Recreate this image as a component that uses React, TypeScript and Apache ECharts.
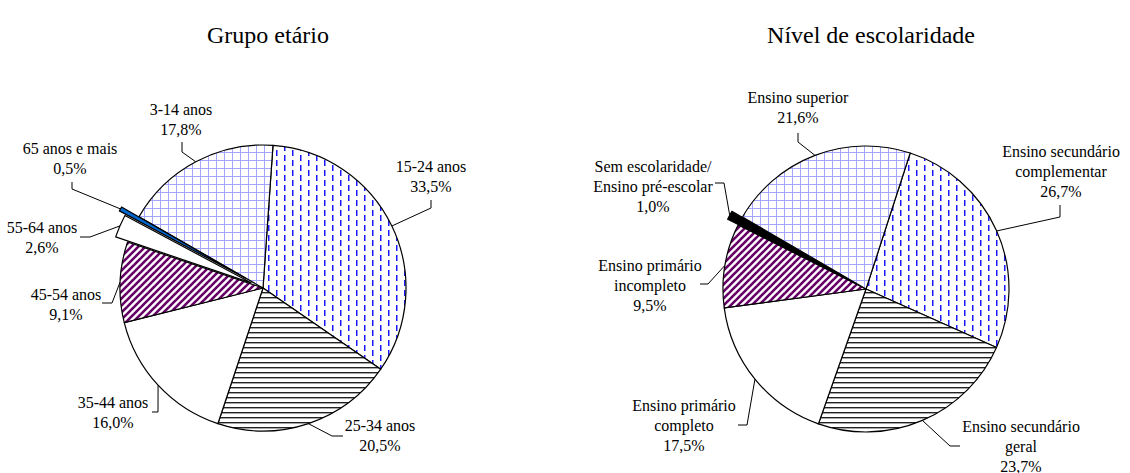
import React, { useEffect, useRef } from "react";
import * as echarts from "echarts";

const ageCategories = ["15-24 anos", "25-34 anos", "35-44 anos", "45-54 anos", "55-64 anos", "65 anos e mais", "3-14 anos"];
const ageValues = [33.5, 20.5, 16.0, 9.1, 2.6, 0.5, 17.8];
// explosion distance of each slice (px, layout only)
const ageExplode = [0, 0, 0, 0, 13, 20, 0];

const eduCategories = [
  "Ensino secundário\ncomplementar",
  "Ensino secundário\ngeral",
  "Ensino primário\ncompleto",
  "Ensino primário\nincompleto",
  "Sem escolaridade/\nEnsino pré-escolar",
  "Ensino superior",
];
const eduValues = [26.7, 23.7, 17.5, 9.5, 1.0, 21.6];
const eduExplode = [0, 0, 0, 0, 12, 0];

const titles = ["Grupo etário", "Nível de escolaridade"];

// label block centres and leader elbows (layout only)
const ageLabelPos = [[431, 176], [380, 435], [113, 412], [66, 304], [42, 237], [70, 158], [181, 119]];
const ageElbows = [
  [[431, 208], [431, 200]],
  [[332, 436], [343, 436]],
  [[158, 412], [152, 412]],
  [[112, 303], [102, 303]],
  [[90, 237], [80, 237]],
  [[72, 189], [72, 182]],
  [[182, 152], [182, 142]],
];
const eduLabelPos = [[1061, 171], [1021, 446], [684, 425], [650, 285], [653, 186], [798, 107]];
const eduElbows = [
  [[1060, 217], [1060, 205]],
  [[950, 446], [960, 446]],
  [[747, 425], [738, 425]],
  [[708, 284], [700, 284]],
  [[724, 183], [715, 183]],
  [[798, 142], [798, 133]],
];

function makeCanvas(w: number, h: number, draw: (c: CanvasRenderingContext2D) => void) {
  const cv = document.createElement("canvas");
  cv.width = w;
  cv.height = h;
  const ctx = cv.getContext("2d")!;
  ctx.fillStyle = "#ffffff";
  ctx.fillRect(0, 0, w, h);
  draw(ctx);
  return cv;
}

export default function App() {
  const ref = useRef<HTMLDivElement>(null);
  useEffect(() => {
    if (!ref.current) return;
    const chart = echarts.init(ref.current, null, { renderer: "svg" });

    const dashPattern = makeCanvas(16, 20, (c) => {
      c.fillStyle = "#1a1aff";
      c.fillRect(4, 0, 1.5, 6);
      c.fillRect(4, 10, 1.5, 6);
      c.fillRect(12, 5, 1.5, 6);
      c.fillRect(12, 15, 1.5, 5);
      c.fillRect(12, 0, 1.5, 1);
    });
    const hPattern = makeCanvas(4, 5, (c) => {
      c.fillStyle = "#222222";
      c.fillRect(0, 2, 4, 1.4);
    });
    const gridPattern = makeCanvas(8, 8, (c) => {
      c.fillStyle = "#a5a5ff";
      c.fillRect(0, 0, 8, 1);
      c.fillRect(0, 0, 1, 8);
    });
    const diagPattern = makeCanvas(7, 7, (c) => {
      c.strokeStyle = "#660066";
      c.lineWidth = 2.6;
      const seg = (x1: number, y1: number, x2: number, y2: number) => {
        c.beginPath();
        c.moveTo(x1, y1);
        c.lineTo(x2, y2);
        c.stroke();
      };
      seg(-1, 8, 8, -1);
      seg(-4.5, 4.5, 4.5, -4.5);
      seg(2.5, 11.5, 11.5, 2.5);
    });
    const pat = (cv: HTMLCanvasElement) => ({ image: cv, repeat: "repeat" } as any);

    const ageFills = [pat(dashPattern), pat(hPattern), "#ffffff", pat(diagPattern), "#ffffff", "#0066cc", pat(gridPattern)];
    const eduFills = [pat(dashPattern), pat(hPattern), "#ffffff", pat(diagPattern), "#000000", pat(gridPattern)];

    const fmt = (v: number) => v.toFixed(1).replace(".", ",") + "%";
    const hidden = { color: "rgba(0,0,0,0)", borderWidth: 0 };
    const serif = "Liberation Serif";

    // visible pie series: items whose explosion equals `off` are selected; items in `hide` are invisible
    const visSeries = (
      center: number[],
      startAngle: number,
      cats: string[],
      vals: number[],
      fills: any[],
      expl: number[],
      off: number,
      show: (i: number) => boolean
    ) => ({
      type: "pie",
      center,
      radius: 143,
      startAngle,
      clockwise: true,
      selectedMode: "multiple",
      selectedOffset: off,
      silent: true,
      label: { show: false },
      labelLine: { show: false },
      emphasis: { disabled: true },
      itemStyle: { borderColor: "#000", borderWidth: 1.2 },
      data: cats.map((n, i) => ({
        name: n,
        value: vals[i],
        selected: off > 0 && expl[i] === off,
        itemStyle: show(i) ? { color: fills[i], borderColor: "#000", borderWidth: 1.2 } : hidden,
      })),
    });

    const labelSeries = (
      center: number[],
      startAngle: number,
      cats: string[],
      vals: number[],
      expl: number[],
      pos: number[][],
      elbows: number[][][]
    ) => ({
      type: "pie",
      center,
      radius: 143,
      startAngle,
      clockwise: true,
      silent: true,
      selectedMode: false,
      avoidLabelOverlap: false,
      emphasis: { disabled: true },
      itemStyle: hidden,
      label: {
        show: true,
        position: "outside",
        formatter: (p: any) => p.name + "\n" + fmt(p.value),
        align: "center",
        fontFamily: serif,
        fontSize: 16,
        lineHeight: 20,
        color: "#000",
      },
      labelLine: { show: true, length: 10, length2: 10, smooth: false, lineStyle: { color: "#000", width: 1 } },
      labelLayout: (p: any) => {
        const i = p.dataIndex;
        let edge: number[] | null = null;
        try {
          const lay = (chart as any).getModel().getSeriesByIndex(p.seriesIndex).getData().getItemLayout(i);
          const mid = (lay.startAngle + lay.endAngle) / 2;
          const rr = lay.r + expl[i];
          edge = [lay.cx + rr * Math.cos(mid), lay.cy + rr * Math.sin(mid)];
        } catch (e) {
          edge = null;
        }
        const out: any = {
          x: pos[i][0],
          y: pos[i][1],
          align: "center",
          verticalAlign: "middle",
        };
        if (edge) out.labelLinePoints = [edge, elbows[i][0], elbows[i][1]];
        return out;
      },
      data: cats.map((n, i) => ({ name: n, value: vals[i] })),
    });

    const titleStyle = { fontFamily: serif, fontSize: 24, fontWeight: "normal", color: "#000" };

    chart.setOption({
      animation: false,
      backgroundColor: "#ffffff",
      title: [
        { text: titles[0], left: 263, top: 18, textAlign: "center", textStyle: titleStyle },
        { text: titles[1], left: 866, top: 18, textAlign: "center", textStyle: titleStyle },
      ],
      series: [
        visSeries([263, 288], 86, ageCategories, ageValues, ageFills, ageExplode, 13, (i) => ageExplode[i] !== 20),
        visSeries([263, 288], 86, ageCategories, ageValues, ageFills, ageExplode, 20, (i) => ageExplode[i] === 20),
        labelSeries([263, 288], 86, ageCategories, ageValues, ageExplode, ageLabelPos, ageElbows),
        visSeries([866, 289], 72, eduCategories, eduValues, eduFills, eduExplode, 12, () => true),
        labelSeries([866, 289], 72, eduCategories, eduValues, eduExplode, eduLabelPos, eduElbows),
      ],
    } as any);

    return () => chart.dispose();
  }, []);
  return (
    <div
      ref={ref}
      style={{ position: "absolute", left: 0, top: 0, width: 1130, height: 473, background: "#fff" }}
    />
  );
}
